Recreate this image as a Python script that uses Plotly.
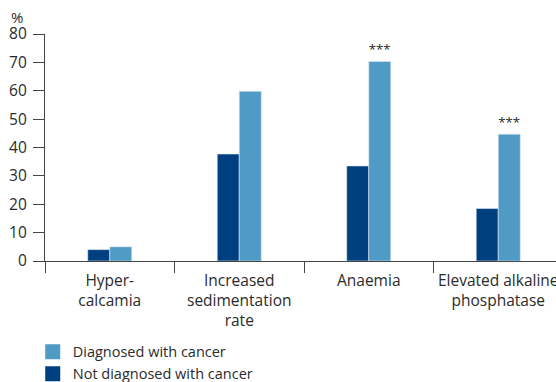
import plotly.graph_objects as go

categories = ["Hyper-<br>calcamia", "Increased<br>sedimentation<br>rate", "Anaemia",
              "Elevated alkaline<br>phosphatase"]
not_diagnosed = [4.0, 37.7, 33.5, 18.5]
diagnosed = [5.0, 59.8, 70.3, 44.7]
significance = ["", "", "***", "***"]
y_ticks = [0, 10, 20, 30, 40, 50, 60, 70, 80]

DARK = "#003f7f"
LIGHT = "#4f9bc5"
INK = "#2b2b2b"
FONT = "Open Sans"

fig = go.Figure()
fig.add_trace(go.Bar(
    x=categories, y=not_diagnosed, name="Not diagnosed with cancer",
    marker=dict(color=DARK, line=dict(color="#dbe8f1", width=0.6)),
    showlegend=False,
))
fig.add_trace(go.Bar(
    x=categories, y=diagnosed, name="Diagnosed with cancer",
    marker=dict(color=LIGHT, line=dict(color="#dbe8f1", width=0.6)),
    text=significance, textposition="outside", cliponaxis=False,
    textfont=dict(family=FONT, size=16, color=INK),
    showlegend=False,
))

# legend entries with larger square swatches
for name, color in [("Diagnosed with cancer", LIGHT), ("Not diagnosed with cancer", DARK)]:
    fig.add_trace(go.Scatter(
        x=[None], y=[None], mode="markers", name=name,
        marker=dict(symbol="square", size=15, color=color),
    ))

fig.update_layout(
    width=556, height=382,
    margin=dict(l=45, r=0, t=33.5, b=120.5, autoexpand=False),
    plot_bgcolor="white", paper_bgcolor="white",
    barmode="group", bargap=0.66, bargroupgap=0,
    font=dict(family=FONT, size=15, color=INK),
    showlegend=True,
    legend=dict(
        x=-0.024, y=-0.33, xanchor="left", yanchor="top",
        traceorder="normal", font=dict(size=14.5, color=INK),
        bgcolor="rgba(0,0,0,0)", itemwidth=30, tracegroupgap=0,
    ),
    xaxis=dict(
        range=[-0.5, 3.446], showline=True, linecolor="#444", linewidth=1.3,
        ticks="outside", tickson="boundaries", ticklen=11, tickcolor="#444",
        tickwidth=1.3, showgrid=False, zeroline=False, automargin=False,
        tickfont=dict(size=15.5, color=INK), ticklabelstandoff=5,
    ),
    yaxis=dict(
        range=[0, 80], tickvals=y_ticks, showline=True, linecolor="#444",
        linewidth=1.3, ticks="outside", ticklen=11, tickcolor="#444", tickwidth=1.3,
        showgrid=False, zeroline=False, automargin=False,
        tickfont=dict(size=15.5, color=INK), ticklabelstandoff=3,
    ),
    annotations=[dict(
        text="%", xref="paper", yref="paper", x=-0.055, y=1.02,
        xanchor="center", yanchor="bottom", showarrow=False,
        font=dict(size=15, color=INK),
    )],
)

fig.write_html("out.html")
